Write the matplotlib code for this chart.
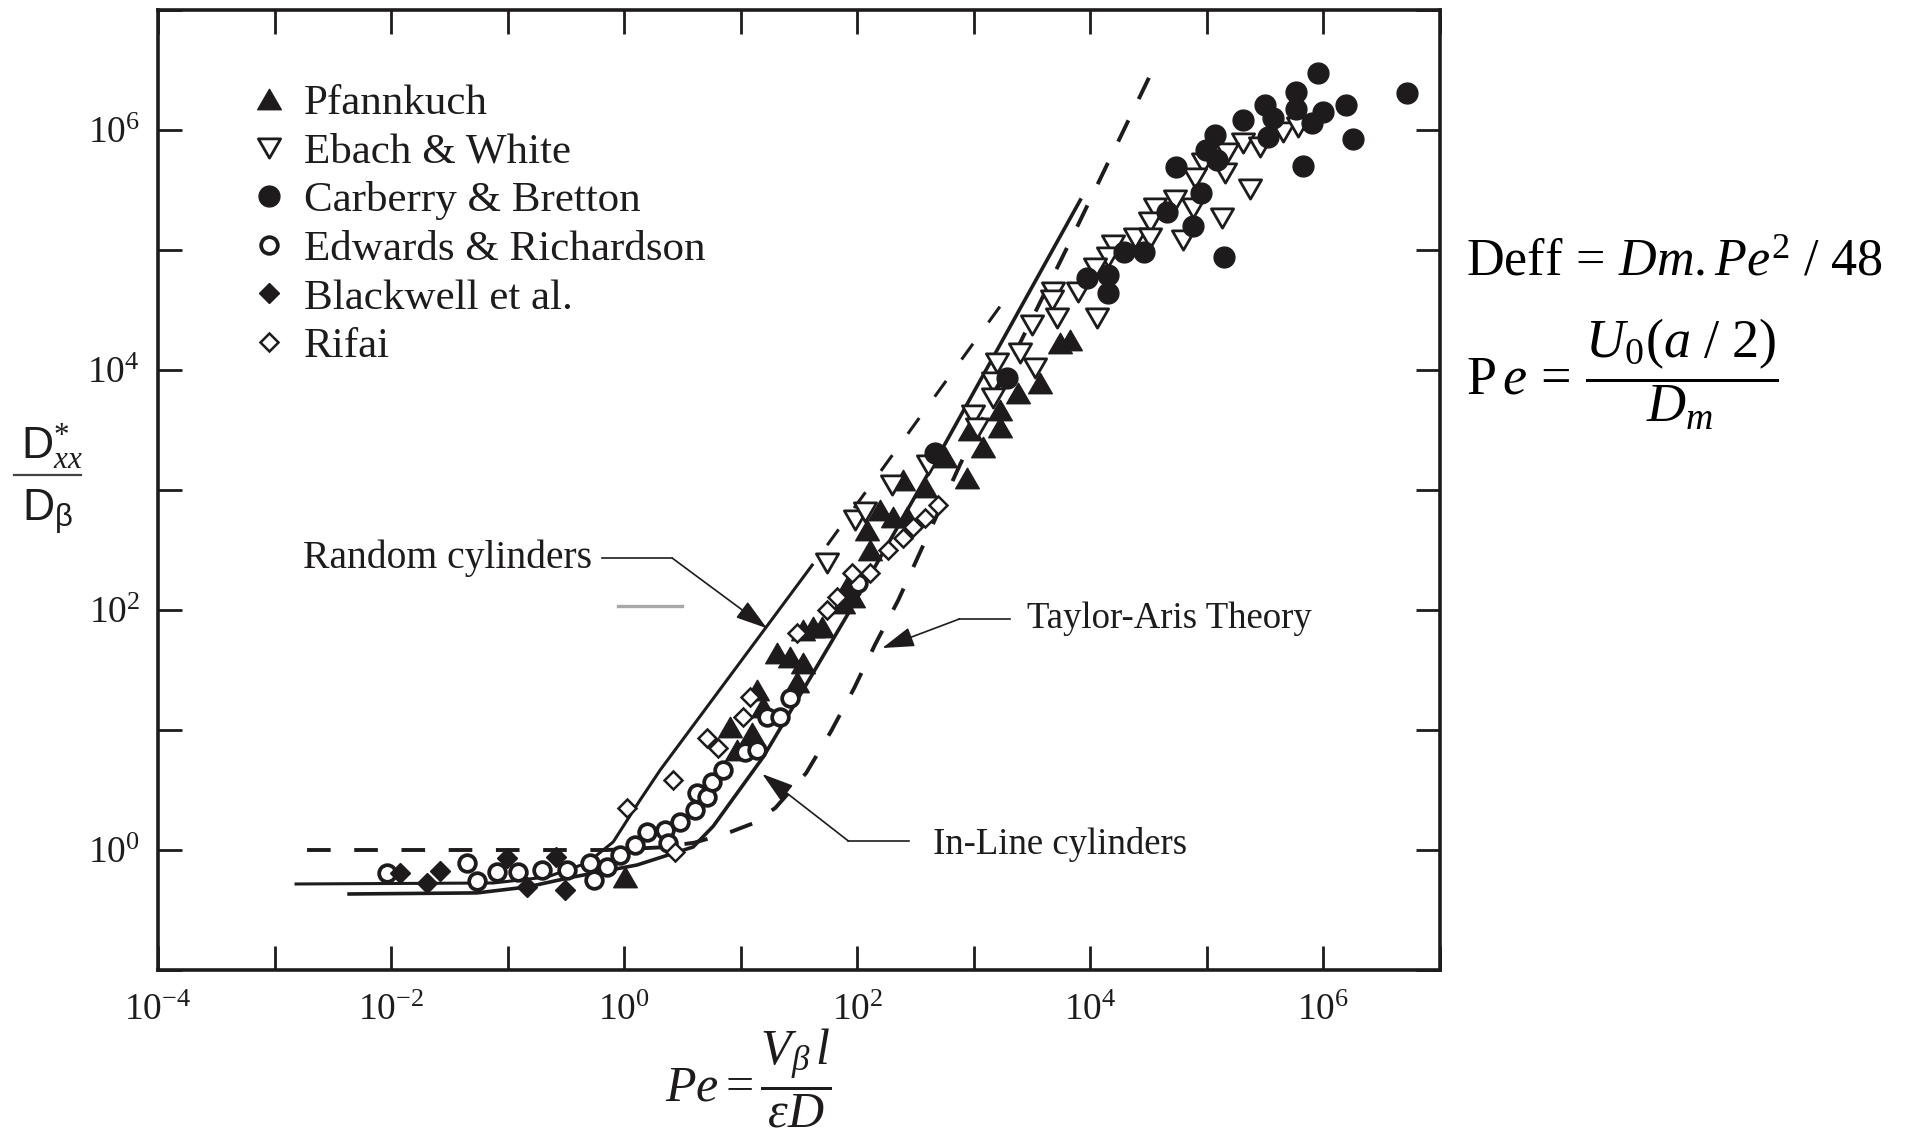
import matplotlib
matplotlib.use("Agg")
import matplotlib.pyplot as plt
from matplotlib.ticker import FixedLocator, FixedFormatter, NullLocator
from matplotlib.lines import Line2D
from matplotlib.path import Path

plt.rcParams.update({
    "font.family": ["Liberation Serif", "DejaVu Serif"],
    "mathtext.fontset": "custom",
    "mathtext.rm": "Liberation Serif",
    "mathtext.it": "Liberation Serif:italic",
    "mathtext.bf": "Liberation Serif:bold",
    "mathtext.sf": "Liberation Sans",
    "mathtext.fallback": "stix",
    "lines.scale_dashes": False,
})
INK = "#1e1b1c"

# ---------------- data (Pe, D*/D) ----------------
pfann_pe = [5.52e3, 6.73e3, 3.72e3, 2.41e3, 1.69e3, 1.69e3, 933, 1.21e3, 569, 879,
            248, 384, 157, 204, 269, 122, 129, 75.9, 92.5, 82, 34.4, 41.9, 50.1,
            20.6, 26.6, 34.4, 30.5, 13.9, 15.6, 8.13, 12.6, 9.33, 1.02]
pfann_d = [1.68e4, 1.78e4, 7.80e3, 6.43e3, 4.64e3, 3.35e3, 3.16e3, 2.28e3, 1.88e3, 1.26e3,
           1.21e3, 1.06e3, 681, 596, 596, 464, 316, 114, 128, 156, 68.1, 72.1, 72.1,
           43.8, 40.6, 36.2, 25.1, 21.5, 15.6, 10.6, 9.44, 6.81, 0.596]

ebach_pe = [2.06e5, 2.88e5, 1.50e5, 4.54e5, 6.10e5, 9.33e4, 1.44e5, 7.96e4, 2.36e5, 5.37e4,
            7.66e4, 3.61e4, 3.27e4, 1.36e5, 2.43e4, 3.27e4, 6.28e4, 1.55e4, 1.43e4, 1.10e4,
            1.13e4, 4.81e3, 7.89e3, 4.72e3, 5.21e3, 3.18e3, 2.51e3, 3.37e3, 1.59e3, 1.47e3,
            1.47e3, 991, 1.07e3, 406, 200, 96, 117, 55]
ebach_d = [7.8e5, 7.21e5, 6.43e5, 9.62e5, 1.06e6, 5.31e5, 4.38e5, 3.98e5, 3.22e5, 2.61e5,
           2.24e5, 2.24e5, 1.71e5, 1.85e5, 1.26e5, 1.26e5, 1.21e5, 1.10e5, 8.75e4, 7.08e4,
           2.71e4, 4.47e4, 4.47e4, 3.83e4, 2.71e4, 2.37e4, 1.39e4, 1.04e4, 1.14e4, 7.94e3,
           5.85e3, 4.22e3, 3.29e3, 1.62e3, 1.10e3, 562, 656, 247]

carb_pe = [9.06e5, 5.26e6, 5.86e5, 3.18e5, 5.86e5, 1.0e6, 1.57e6, 3.72e5, 2.06e5, 8.05e5,
           1.18e5, 3.37e5, 1.81e6, 9.9e4, 1.23e5, 5.47e4, 6.73e5, 8.98e4, 4.58e4, 7.66e4,
           1.96e4, 2.91e4, 1.41e5, 9.4e3, 1.43e4, 1.43e4, 1.94e3, 468]
carb_d = [2.99e6, 2.03e6, 2.07e6, 1.61e6, 1.50e6, 1.41e6, 1.61e6, 1.26e6, 1.21e6, 1.14e6,
          9.08e5, 8.75e5, 8.41e5, 6.81e5, 5.62e5, 4.92e5, 5.01e5, 2.99e5, 2.07e5, 1.58e5,
          9.6e4, 9.6e4, 8.75e4, 5.85e4, 6.19e4, 4.39e4, 8.57e3, 2.03e3]

edw_pe = [0.00925, 0.0449, 0.0547, 0.0813, 0.123, 0.198, 0.324, 0.511, 0.552, 0.714,
          0.925, 1.24, 1.57, 2.25, 2.39, 3.03, 4.06, 4.24, 5.15, 5.69, 7.08, 10.9, 13.9,
          16.9, 21.8, 26.6, 102]
edw_d = [0.643, 0.780, 0.552, 0.656, 0.656, 0.681, 0.681, 0.780, 0.562, 0.721,
         0.908, 1.10, 1.41, 1.47, 1.14, 1.71, 2.15, 2.99, 2.77, 3.69, 4.64, 6.56, 6.81,
         12.8, 12.8, 18.5, 168]

black_pe = [0.0119, 0.0204, 0.0264, 0.0991, 0.147, 0.261, 0.312]
black_d = [0.643, 0.531, 0.668, 0.857, 0.492, 0.875, 0.464]

rifai_pe = [495, 384, 303, 248, 185, 129, 90.6, 67.3, 55.2, 30.5, 12.1, 10.5, 5.15, 6.41,
            2.64, 1.06, 2.74]
rifai_d = [750, 585, 492, 398, 316, 203, 203, 128, 100, 64.3, 18.8, 12.8, 8.58, 7.08,
           3.83, 2.24, 0.962]

# theory / correlation curves
taylor_pe = [1.9e-3, 0.71, 2.0, 3.98, 7.66, 12.6, 19.8, 36.5, 59.8, 94.2, 143, 225, 330,
             766, 6353, 3.84e4]
taylor_d = [1.0, 1.0, 1.05, 1.15, 1.38, 1.66, 2.24, 4.39, 9.82, 22.4, 52.1, 121, 274,
            1648, 1.06e5, 3.98e6]
random_pe = [1.53e-3, 0.0752, 0.218, 0.481, 0.805, 1.37, 2.04, 41.1]
random_d = [0.521, 0.531, 0.596, 0.78, 1.167, 2.61, 4.65, 237]
random_ext_pe = [55.2, 1687]
random_ext_d = [347, 3.41e4]
inline_pe = [4.36e-3, 0.0547, 0.147, 0.365, 1.29, 3.91, 5.81, 15.6, 30.5, 87.1, 547, 8.2e3]
inline_d = [0.430, 0.439, 0.492, 0.596, 0.750, 1.06, 1.58, 5.96, 17.8, 100, 2.28e3, 2.61e5]

series_labels = ["Pfannkuch", "Ebach & White", "Carberry & Bretton",
                 "Edwards & Richardson", "Blackwell et al.", "Rifai"]
x_exponents = list(range(-4, 8))
y_exponents = list(range(-1, 8))

# ---------------- figure ----------------
fig = plt.figure(figsize=(19.08, 11.39), dpi=100)
ax = fig.add_axes([158 / 1908, 1 - 970 / 1139, 1282 / 1908, 960 / 1139])
ax.set_xscale("log")
ax.set_yscale("log")
ax.set_xlim(1e-4, 1e7)
ax.set_ylim(1e-1, 1e7)

# curves
ax.plot(taylor_pe, taylor_d, color=INK, lw=2.8, dashes=(17, 17), zorder=2)
ax.plot(random_pe, random_d, color=INK, lw=2.2, zorder=2)
ax.plot(random_ext_pe, random_ext_d, color=INK, lw=2.2, dashes=(14, 19), zorder=2)
ax.plot(inline_pe, inline_d, color=INK, lw=2.6, zorder=2)

codes = [Path.MOVETO, Path.LINETO, Path.LINETO, Path.CLOSEPOLY]
tri_up = Path([(-1, -0.866), (1, -0.866), (0, 0.866), (-1, -0.866)], codes)
tri_dn = Path([(-1, 0.866), (1, 0.866), (0, -0.866), (-1, 0.866)], codes)

h1, = ax.plot(pfann_pe, pfann_d, ls="none", marker=tri_up, ms=17, mfc=INK, mec=INK, mew=1, zorder=4)
h2, = ax.plot(ebach_pe, ebach_d, ls="none", marker=tri_dn, ms=16, mfc="white", mec=INK, mew=2.0, zorder=4)
h3, = ax.plot(carb_pe, carb_d, ls="none", marker="o", ms=15, mfc=INK, mec=INK, mew=1, zorder=4)
h4, = ax.plot(edw_pe, edw_d, ls="none", marker="o", ms=12, mfc="white", mec=INK, mew=2.7, zorder=4)
h5, = ax.plot(black_pe, black_d, ls="none", marker="D", ms=10.5, mfc=INK, mec=INK, mew=1, zorder=4)
h6, = ax.plot(rifai_pe, rifai_d, ls="none", marker="D", ms=9.5, mfc="white", mec=INK, mew=1.8, zorder=4)

leg = ax.legend([h1, h2, h3, h4, h5, h6], series_labels, loc="upper left",
                bbox_to_anchor=(0.0733, 0.923), frameon=False, fontsize=31,
                handlelength=0.8, handletextpad=0.40, labelspacing=0.22,
                borderpad=0, borderaxespad=0, numpoints=1)
for t in leg.get_texts():
    t.set_color(INK)

# ticks
ax.xaxis.set_major_locator(FixedLocator([10.0 ** k for k in x_exponents]))
ax.xaxis.set_major_formatter(FixedFormatter(
    [r"$10^{%d}$" % k if k % 2 == 0 else "" for k in x_exponents]))
ax.yaxis.set_major_locator(FixedLocator([10.0 ** k for k in y_exponents]))
ax.yaxis.set_major_formatter(FixedFormatter(
    [r"$10^{%d}$" % k if k % 2 == 0 else "" for k in y_exponents]))
ax.xaxis.set_minor_locator(NullLocator())
ax.yaxis.set_minor_locator(NullLocator())
ax.tick_params(which="major", direction="in", length=17, width=2.0, color=INK,
               top=True, right=True, labelsize=27, labelcolor=INK)
ax.tick_params(axis="x", pad=17)
ax.tick_params(axis="y", pad=13)
for s in ax.spines.values():
    s.set_linewidth(2.6)
    s.set_color(INK)

# call-outs
def callout(label, size, text_at, start, elbow, tip):
    ax.text(text_at[0], text_at[1], label, fontsize=size, ha="left", va="center",
            color=INK, zorder=5)
    ax.plot([start[0], elbow[0]], [start[1], elbow[1]], color=INK, lw=1.2, zorder=3)
    ax.annotate("", xy=tip, xytext=elbow,
                arrowprops=dict(arrowstyle="-|>,head_length=0.9,head_width=0.28",
                                color=INK, lw=1.2, shrinkA=0, shrinkB=0,
                                mutation_scale=22), zorder=3)

callout("Random cylinders", 28.5, (1.76e-3, 271), (0.643, 271), (2.58, 271), (16.8, 70.4))
callout("Taylor-Aris Theory", 26.5, (2878, 84.1), (2056, 84.1), (751, 84.1), (164, 48.2))
callout("In-Line cylinders", 26.5, (447, 1.12), (277, 1.19), (83.8, 1.19), (15.3, 4.30))
ax.plot([0.887, 3.15], [108, 108], color="#a8a8a8", lw=2.4, zorder=2)

# axis labels
fig.text(748 / 1908, 1 - 1078 / 1139, r"$Pe = \dfrac{V_{\beta}\,l}{\varepsilon D}$",
         fontsize=36, ha="center", va="center", color=INK)
fig.text(52 / 1908, 1 - 446 / 1139, r"$\mathsf{D}^{*}_{xx}$", fontsize=32,
         ha="center", va="center", color=INK)
fig.text(48 / 1908, 1 - 512 / 1139, r"$\mathsf{D}_{\mathsf{\beta}}$", fontsize=32,
         ha="center", va="center", color=INK)
fig.add_artist(Line2D([14 / 1908, 81 / 1908], [1 - 475 / 1139] * 2,
                      transform=fig.transFigure, color="#444444", lw=1.6))

# side formulas
fig.text(1466 / 1908, 1 - 262 / 1139, r"$\mathrm{Deff}\,=\,Dm{.}Pe^{2}\ /\ 48$",
         fontsize=37.5, ha="left", va="center", color="black")
fig.text(1466 / 1908, 1 - 374 / 1139,
         r"$\mathrm{P}\,e\,=\,\dfrac{U_{0}(a\ /\ 2)}{D_{m}}$",
         fontsize=39, ha="left", va="center", color="black")

fig.savefig("out.png", dpi=100)
